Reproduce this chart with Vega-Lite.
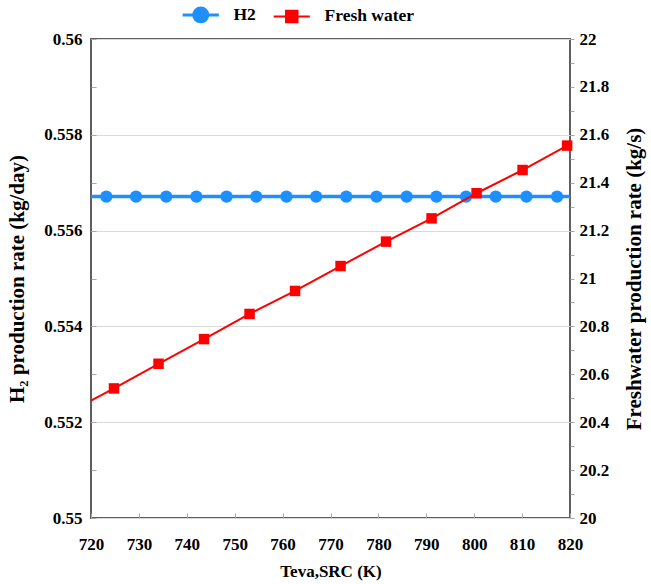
{
  "$schema": "https://vega.github.io/schema/vega-lite/v6.json",
  "width": 479,
  "height": 479,
  "autosize": "none",
  "padding": {"left": 91, "top": 39, "right": 81, "bottom": 66},
  "background": "white",
  "config": {
    "font": "Liberation Serif",
    "view": {"stroke": "#5f5f5f", "strokeWidth": 2},
    "axis": {
      "labelFont": "Liberation Serif",
      "labelFontSize": 17,
      "labelFontWeight": "bold",
      "labelColor": "#000000",
      "titleFont": "Liberation Serif",
      "titleFontSize": 21,
      "titleFontWeight": "bold",
      "titleColor": "#000000",
      "domain": false,
      "tickColor": "#a6a6a6",
      "gridColor": "#d9d9d9",
      "gridWidth": 1
    }
  },
  "datasets": {
    "h2_points": [
      {"T": 723.2, "rate": 0.55671, "series": "H2"},
      {"T": 729.4, "rate": 0.55671, "series": "H2"},
      {"T": 735.7, "rate": 0.55671, "series": "H2"},
      {"T": 742.0, "rate": 0.55671, "series": "H2"},
      {"T": 748.3, "rate": 0.55671, "series": "H2"},
      {"T": 754.5, "rate": 0.55671, "series": "H2"},
      {"T": 760.8, "rate": 0.55671, "series": "H2"},
      {"T": 767.0, "rate": 0.55671, "series": "H2"},
      {"T": 773.3, "rate": 0.55671, "series": "H2"},
      {"T": 779.6, "rate": 0.55671, "series": "H2"},
      {"T": 785.9, "rate": 0.55671, "series": "H2"},
      {"T": 792.1, "rate": 0.55671, "series": "H2"},
      {"T": 798.3, "rate": 0.55671, "series": "H2"},
      {"T": 804.5, "rate": 0.55671, "series": "H2"},
      {"T": 810.9, "rate": 0.55671, "series": "H2"},
      {"T": 817.3, "rate": 0.55671, "series": "H2"}
    ],
    "h2_line": [
      {"T": 720, "rate": 0.55671, "series": "H2"},
      {"T": 820, "rate": 0.55671, "series": "H2"}
    ],
    "water_points": [
      {"T": 724.8, "rate": 20.541, "series": "Fresh water"},
      {"T": 734.1, "rate": 20.644, "series": "Fresh water"},
      {"T": 743.6, "rate": 20.747, "series": "Fresh water"},
      {"T": 753.1, "rate": 20.852, "series": "Fresh water"},
      {"T": 762.6, "rate": 20.948, "series": "Fresh water"},
      {"T": 772.1, "rate": 21.052, "series": "Fresh water"},
      {"T": 781.6, "rate": 21.154, "series": "Fresh water"},
      {"T": 791.1, "rate": 21.251, "series": "Fresh water"},
      {"T": 800.5, "rate": 21.356, "series": "Fresh water"},
      {"T": 810.1, "rate": 21.453, "series": "Fresh water"},
      {"T": 819.4, "rate": 21.555, "series": "Fresh water"}
    ],
    "water_line": [
      {"T": 720.0, "rate": 20.49, "series": "Fresh water"},
      {"T": 724.8, "rate": 20.541, "series": "Fresh water"},
      {"T": 734.1, "rate": 20.644, "series": "Fresh water"},
      {"T": 743.6, "rate": 20.747, "series": "Fresh water"},
      {"T": 753.1, "rate": 20.852, "series": "Fresh water"},
      {"T": 762.6, "rate": 20.948, "series": "Fresh water"},
      {"T": 772.1, "rate": 21.052, "series": "Fresh water"},
      {"T": 781.6, "rate": 21.154, "series": "Fresh water"},
      {"T": 791.1, "rate": 21.251, "series": "Fresh water"},
      {"T": 800.5, "rate": 21.356, "series": "Fresh water"},
      {"T": 810.1, "rate": 21.453, "series": "Fresh water"},
      {"T": 819.4, "rate": 21.555, "series": "Fresh water"}
    ]
  },
  "encoding": {
    "x": {
      "field": "T",
      "type": "quantitative",
      "scale": {"domain": [720, 820], "nice": false, "zero": false},
      "axis": {
        "title": "Teva,SRC (K)",
        "titleFontSize": 17,
        "values": [720, 730, 740, 750, 760, 770, 780, 790, 800, 810, 820],
        "grid": false,
        "labelFlush": false,
        "tickSize": -5,
        "labelPadding": 23,
        "titlePadding": 11
      }
    },
    "color": {
      "field": "series",
      "type": "nominal",
      "scale": {"domain": ["H2", "Fresh water"], "range": ["#1e8fff", "#ff0000"]},
      "legend": {
        "orient": "none",
        "legendX": 101,
        "legendY": -33,
        "direction": "horizontal",
        "title": null,
        "padding": 0,
        "symbolSize": 270,
        "labelOffset": 24,
        "columnPadding": 13,
        "labelFont": "Liberation Serif",
        "labelFontSize": 17.5,
        "labelFontWeight": "bold",
        "labelColor": "#000000",
        "encode": {
          "symbols": {
            "update": {
              "shape": {"signal": "datum.value === 'H2' ? 'M-2.2,0H2.2M0.85,0A0.85,0.85 0 1,1 -0.85,0A0.85,0.85 0 1,1 0.85,0Z' : 'M-2.2,0H2.2M-0.7,-0.7H0.7V0.7H-0.7Z'"},
              "fill": {"signal": "datum.value === 'H2' ? '#1e8fff' : '#ff0000'"},
              "stroke": {"signal": "datum.value === 'H2' ? '#1e8fff' : '#ff0000'"},
              "strokeWidth": {"signal": "datum.value === 'H2' ? 3 : 2"},
              "opacity": {"value": 1},
              "fillOpacity": {"value": 1},
              "strokeOpacity": {"value": 1}
            }
          }
        }
      }
    }
  },
  "layer": [
    {
      "encoding": {
        "y": {
          "field": "rate",
          "type": "quantitative",
          "scale": {"domain": [0.55, 0.56], "nice": false, "zero": false},
          "axis": {
            "orient": "left",
            "title": "H₂ production rate (kg/day)",
            "values": [0.55, 0.551, 0.552, 0.553, 0.554, 0.555, 0.556, 0.557, 0.558, 0.559, 0.56],
            "labelExpr": "round(datum.value*1000) % 2 === 0 ? format(datum.value, '.3~f') : ''",
            "gridOpacity": {"condition": {"test": "round(datum.value*1000) % 2 === 0", "value": 1}, "value": 0},
            "tickSize": -5,
            "labelPadding": 14,
            "titlePadding": 16
          }
        }
      },
      "layer": [
        {
          "data": {"name": "h2_line"},
          "mark": {"type": "line", "strokeWidth": 3.5},
          "encoding": {}
        },
        {
          "data": {"name": "h2_points"},
          "mark": {"type": "point", "shape": "circle", "filled": true, "opacity": 1, "size": 150},
          "encoding": {}
        }
      ]
    },
    {
      "encoding": {
        "y": {
          "field": "rate",
          "type": "quantitative",
          "scale": {"domain": [20, 22], "nice": false, "zero": false},
          "axis": {
            "orient": "right",
            "title": "Freshwater production rate (kg/s)",
            "titleAngle": -90,
            "values": [20, 20.1, 20.2, 20.3, 20.4, 20.5, 20.6, 20.7, 20.8, 20.9, 21, 21.1, 21.2, 21.3, 21.4, 21.5, 21.6, 21.7, 21.8, 21.9, 22],
            "labelExpr": "round(datum.value*10) % 2 === 0 ? format(datum.value, '.1~f') : ''",
            "grid": false,
            "tickSize": 4,
            "labelPadding": 5,
            "titlePadding": 36
          }
        }
      },
      "layer": [
        {
          "data": {"name": "water_line"},
          "mark": {"type": "line", "strokeWidth": 2},
          "encoding": {}
        },
        {
          "data": {"name": "water_points"},
          "mark": {"type": "point", "shape": "square", "filled": true, "opacity": 1, "size": 110},
          "encoding": {}
        }
      ]
    }
  ],
  "resolve": {"scale": {"y": "independent"}}
}
